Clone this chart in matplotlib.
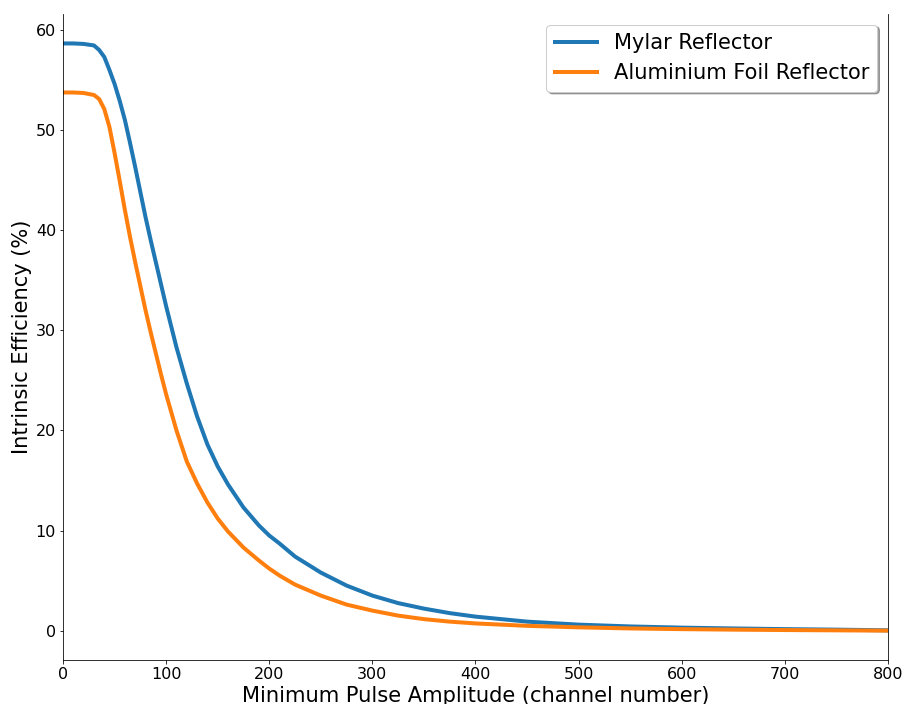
"""Intrinsic efficiency vs minimum pulse amplitude for two reflector types."""

import matplotlib

matplotlib.use("Agg")
import matplotlib.pyplot as plt  # noqa: E402

# threshold (channel number)
channel = [0, 10, 20, 30, 35, 40, 45, 50, 55, 60, 65, 70, 75, 80, 85, 90,
           95, 100, 110, 120, 130, 140, 150, 160, 175, 190, 200, 210, 225,
           250, 275, 300, 325, 350, 375, 400, 450, 500, 550, 600, 650, 700,
           750, 800]

# intrinsic efficiency (%)
mylar = [58.65, 58.65, 58.6, 58.45, 58.0, 57.3, 56.0, 54.6, 52.9, 51.0,
         48.7, 46.3, 43.8, 41.3, 39.0, 36.8, 34.6, 32.4, 28.3, 24.7, 21.4,
         18.6, 16.4, 14.6, 12.3, 10.5, 9.5, 8.7, 7.4, 5.8, 4.5, 3.5, 2.75,
         2.2, 1.75, 1.4, 0.9, 0.6, 0.42, 0.3, 0.22, 0.15, 0.1, 0.03]

alu_foil = [53.75, 53.75, 53.7, 53.5, 53.1, 52.1, 50.3, 47.7, 44.9, 42.0,
            39.3, 36.8, 34.4, 32.0, 29.8, 27.7, 25.6, 23.6, 20.0, 16.9,
            14.7, 12.8, 11.2, 9.9, 8.3, 7.0, 6.2, 5.5, 4.6, 3.5, 2.6, 2.0,
            1.5, 1.15, 0.9, 0.72, 0.48, 0.33, 0.22, 0.15, 0.1, 0.06, 0.03,
            0.0]

fig = plt.figure(figsize=(907 / 72, 704 / 72), dpi=72)
fig.subplots_adjust(left=0.0695, right=0.979, top=0.980, bottom=0.0625)
ax = fig.add_subplot(111)

ax.plot(channel, mylar, color="#1f77b4", lw=4, label="Mylar Reflector")
ax.plot(channel, alu_foil, color="#ff7f0e", lw=4,
        label="Aluminium Foil Reflector")

ax.set_xlim(0, 800)
ax.set_xlabel("Minimum Pulse Amplitude (channel number)", fontsize=21)
ax.set_ylabel("Intrinsic Efficiency (%)", fontsize=21)
ax.tick_params(labelsize=16)

ax.spines["top"].set_visible(False)

ax.legend(loc="upper right", fontsize=21, shadow=True, framealpha=1)

fig.savefig("out.png", dpi=72, facecolor="white")
